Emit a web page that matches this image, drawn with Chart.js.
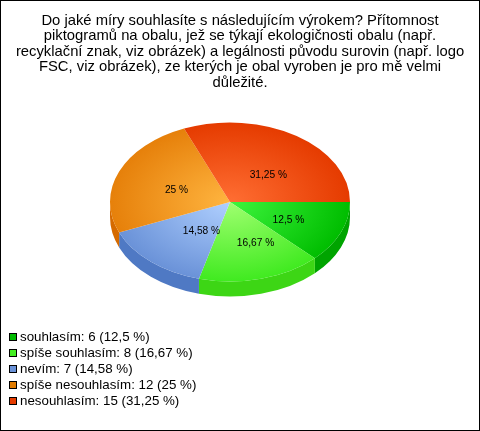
<!doctype html>
<html>
<head>
	<meta charset="utf-8">
	<title>Pie</title>
	<style>
		html, body { margin: 0; padding: 0; background: #fff; }
		canvas { display: block; }
	</style>
</head>
<body>
	<canvas id="chart-area" width="480" height="431"></canvas>
	<script src="https://cdn.jsdelivr.net/npm/chart.js@4/dist/chart.umd.min.js"></script>
	<script>
	var titleLines = [
		"Do jaké míry souhlasíte s následujícím výrokem? Přítomnost",
		"piktogramů na obalu, jež se týkají ekologičnosti obalu (např.",
		"recyklační znak, viz obrázek) a legálnosti původu surovin (např. logo",
		"FSC, viz obrázek), ze kterých je obal vyroben je pro mě velmi",
		"důležité."
	];
	var categories = ["souhlasím", "spíše souhlasím", "nevím", "spíše nesouhlasím", "nesouhlasím"];
	var counts = [6, 8, 7, 12, 15];
	var percents = ["12,5 %", "16,67 %", "14,58 %", "25 %", "31,25 %"];

	var innerColors = ["#3df53d", "#a0ff70", "#b0d0ff", "#ffb540", "#ff6e33"];
	var outerColors = ["#00bd00", "#40ea20", "#6a92d8", "#e6800a", "#e53b00"];
	var sideColors = ["#00a400", "#3dd615", "#4f79c4", "#d56a00", "#c83300"];
	var legendColors = ["#00bb00", "#44ee22", "#6a92d8", "#e27c00", "#e53b00"];
	// small shifts of the value labels, the original does not centre them exactly
	var labelNudge = [[3, 3], [10, 3], [11, -1], [2, 3], [5, 6]];

	var FONT = '"Liberation Sans", Arial, sans-serif';
	var squash = 0.6625;
	var depth = 15;

	var pie3d = {
		id: 'pie3d',
		afterLayout: function(chart) {
			// pie sits at a fixed place, the title and legend do not push it
			chart.chartArea = {left: 110, right: 350, top: 82, bottom: 322, width: 240, height: 240};
		},
		beforeDatasetsDraw: function(chart) {
			var ctx = chart.ctx;
			var arcs = chart.getDatasetMeta(0).data;
			var cx = arcs[0].x, cy = arcs[0].y;
			ctx.save();
			ctx.translate(cx, cy);
			ctx.scale(1, squash);
			ctx.translate(-cx, -cy);
			// the rim, only the front half of the pie shows it
			arcs.forEach(function(arc, i) {
				var a = Math.max(arc.startAngle, 0);
				var b = Math.min(arc.endAngle, Math.PI);
				if (b <= a) return;
				ctx.beginPath();
				ctx.arc(cx, cy, arc.outerRadius, a, b);
				ctx.arc(cx, cy + depth / squash, arc.outerRadius, b, a, true);
				ctx.closePath();
				ctx.fillStyle = sideColors[i];
				ctx.fill();
			});
		},
		afterDatasetsDraw: function(chart) {
			var ctx = chart.ctx;
			ctx.restore();
			var arcs = chart.getDatasetMeta(0).data;
			var cy = arcs[0].y;
			ctx.save();
			ctx.font = '10.2px ' + FONT;
			ctx.fillStyle = '#000';
			ctx.textAlign = 'center';
			ctx.textBaseline = 'middle';
			arcs.forEach(function(arc, i) {
				var p = arc.tooltipPosition();
				ctx.fillText(percents[i], p.x + labelNudge[i][0], cy + (p.y - cy) * squash + labelNudge[i][1]);
			});
			ctx.restore();
		},
		afterDraw: function(chart) {
			var ctx = chart.ctx;
			ctx.save();
			// legend
			ctx.font = '13.33px ' + FONT;
			ctx.textBaseline = 'middle';
			categories.forEach(function(name, i) {
				var y = 333 + i * 16;
				ctx.fillStyle = legendColors[i];
				ctx.fillRect(9, y, 8, 8);
				ctx.strokeStyle = '#000';
				ctx.lineWidth = 1;
				ctx.strokeRect(9.5, y + 0.5, 7, 7);
				ctx.fillStyle = '#000';
				ctx.fillText(name + ': ' + counts[i] + ' (' + percents[i] + ')', 20, y + 4.5);
			});
			// frame
			ctx.strokeStyle = '#000';
			ctx.strokeRect(0.5, 0.5, 479, 430);
			ctx.restore();
		}
	};

	var config = {
		type: 'pie',
		data: {
			labels: categories,
			datasets: [{
				data: counts,
				borderWidth: 0,
				backgroundColor: function(c) {
					var area = c.chart.chartArea;
					if (!area || c.dataIndex === undefined) return '#ccc';
					var cx = (area.left + area.right) / 2, cy = (area.top + area.bottom) / 2;
					var g = c.chart.ctx.createRadialGradient(cx, cy, 0, cx, cy, area.width / 2);
					g.addColorStop(0, innerColors[c.dataIndex]);
					g.addColorStop(1, outerColors[c.dataIndex]);
					return g;
				}
			}]
		},
		options: {
			responsive: false,
			animation: false,
			rotation: 90,
			plugins: {
				legend: { display: false },
				tooltip: { enabled: false },
				title: {
					display: true,
					text: titleLines,
					color: '#000',
					font: { family: FONT, size: 14.8, weight: 'normal', lineHeight: 1.05 },
					padding: { top: 13, bottom: 0 }
				}
			}
		},
		plugins: [pie3d]
	};
	window.onload = function() {
		var ctx = document.getElementById("chart-area").getContext("2d");
		window.myPie = new Chart(ctx, config);
	};
	</script>
</body>
</html>
